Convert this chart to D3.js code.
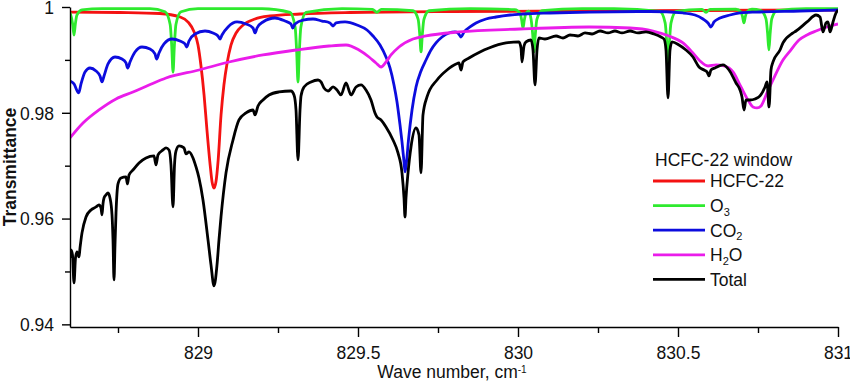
<!DOCTYPE html>
<html>
<head>
<meta charset="utf-8">
<script src="https://cdn.jsdelivr.net/npm/d3@7"></script>
<style>
    body { margin: 0; background: #fff; }
    text { font-family: "Liberation Sans", Arial, sans-serif; fill: #111; }
</style>
</head>
<body>
<div class="wrapper"></div>
<script>
// [wave number cm-1, transmittance]
const hcfc22 = [
    [828.600, 0.99905], [828.756, 0.99896], [828.881, 0.99877], [828.944, 0.99811], [828.969, 0.99716],
    [828.988, 0.99527], [829.000, 0.99281], [829.009, 0.98903], [829.019, 0.98336], [829.028, 0.97674],
    [829.038, 0.97012], [829.044, 0.96691], [829.050, 0.96577], [829.056, 0.96691], [829.063, 0.97107],
    [829.072, 0.97958], [829.081, 0.98525], [829.091, 0.98941], [829.103, 0.99281], [829.119, 0.99508],
    [829.141, 0.99660], [829.178, 0.99773], [829.225, 0.99830], [829.319, 0.99868], [829.475, 0.99896],
    [829.788, 0.99915], [830.256, 0.99924], [830.569, 0.99934], [831.000, 0.99943]
];

const o3 = [
    [828.600, 0.99895], [828.6085, 0.99670], [828.6125, 0.99470], [828.6165, 0.99670], [828.6215, 0.99845],
    [828.6375, 0.99945], [828.700, 0.99970], [828.850, 0.99970],
    [828.897, 0.99910], [828.913, 0.99670], [828.918, 0.99250], [828.922, 0.98770], [828.926, 0.99250],
    [828.931, 0.99670], [828.947, 0.99910], [829.000, 0.99970], [829.200, 0.99970],
    [829.2875, 0.99900], [829.3035, 0.99622], [829.3085, 0.99136], [829.3125, 0.98580], [829.3165, 0.99136],
    [829.3215, 0.99622], [829.3375, 0.99900], [829.450, 0.99970],
    [829.545, 0.99955], [829.559, 0.99900], [829.573, 0.99955],
    [829.672, 0.99929], [829.688, 0.99765], [829.693, 0.99478], [829.697, 0.99150], [829.701, 0.99478],
    [829.706, 0.99765], [829.722, 0.99929], [829.850, 0.99970],
    [829.990, 0.99951], [830.0066, 0.99878], [830.0116, 0.99748], [830.0156, 0.99600], [830.0196, 0.99748],
    [830.0246, 0.99878], [830.033, 0.99920], [830.041, 0.99765], [830.046, 0.99478], [830.050, 0.99150],
    [830.054, 0.99478], [830.059, 0.99765], [830.075, 0.99929], [830.200, 0.99970], [830.300, 0.99970],
    [830.444, 0.99915], [830.460, 0.99695], [830.465, 0.99310], [830.469, 0.98870], [830.473, 0.99310],
    [830.478, 0.99695], [830.494, 0.99915],
    [830.575, 0.99955], [830.5875, 0.99900], [830.600, 0.99955],
    [830.681, 0.99957], [830.697, 0.99903], [830.702, 0.99808], [830.706, 0.99700], [830.710, 0.99808],
    [830.715, 0.99903], [830.731, 0.99957],
    [830.759, 0.99931], [830.775, 0.99775], [830.780, 0.99502], [830.784, 0.99190], [830.788, 0.99502],
    [830.793, 0.99775], [830.809, 0.99931], [830.900, 0.99970], [831.000, 0.99970]
];

const co2 = [
    [828.6000, 0.98601], [828.6125, 0.98545], [828.6272, 0.98375], [828.6344, 0.98545], [828.6469, 0.98771],
    [828.6625, 0.98847], [828.6813, 0.98790], [828.6938, 0.98696], [828.7000, 0.98583], [828.7063, 0.98696],
    [828.7188, 0.98923], [828.7406, 0.99055], [828.7625, 0.99017], [828.7750, 0.98942], [828.7803, 0.98847],
    [828.7875, 0.98960], [828.8031, 0.99150], [828.8250, 0.99244], [828.8500, 0.99206], [828.8656, 0.99112],
    [828.8709, 0.99017], [828.8781, 0.99131], [828.8938, 0.99301], [828.9188, 0.99395], [828.9438, 0.99357],
    [828.9594, 0.99301], [828.9647, 0.99244], [828.9719, 0.99357], [828.9906, 0.99490], [829.0219, 0.99546],
    [829.0469, 0.99509], [829.0625, 0.99452], [829.0688, 0.99395], [829.0750, 0.99471], [829.0938, 0.99622],
    [829.1219, 0.99717], [829.1500, 0.99679], [829.1719, 0.99603], [829.1781, 0.99509], [829.1844, 0.99603],
    [829.2031, 0.99717], [829.2406, 0.99792], [829.2719, 0.99735], [829.2906, 0.99679], [829.2959, 0.99603],
    [829.3031, 0.99679], [829.3281, 0.99754], [829.3594, 0.99773], [829.3875, 0.99735], [829.4125, 0.99698],
    [829.4219, 0.99641], [829.4313, 0.99698], [829.4594, 0.99717], [829.4969, 0.99660], [829.5281, 0.99565],
    [829.5469, 0.99452], [829.5688, 0.99282], [829.5875, 0.99055], [829.6000, 0.98847], [829.6125, 0.98526],
    [829.6219, 0.98205], [829.6313, 0.97770], [829.6375, 0.97449], [829.6438, 0.97071], [829.6469, 0.96882],
    [829.6516, 0.97071], [829.6578, 0.97486], [829.6688, 0.98053], [829.6813, 0.98488], [829.6969, 0.98790],
    [829.7125, 0.98998], [829.7281, 0.99187], [829.7438, 0.99320], [829.7625, 0.99433], [829.7844, 0.99509],
    [829.8031, 0.99528], [829.8125, 0.99509], [829.8219, 0.99433], [829.8313, 0.99528], [829.8500, 0.99622],
    [829.8688, 0.99698], [829.9000, 0.99773], [829.9313, 0.99811], [829.9750, 0.99849], [830.0156, 0.99868],
    [830.1000, 0.99887], [830.2219, 0.99905], [830.4125, 0.99915], [830.5156, 0.99887], [830.5531, 0.99849],
    [830.5781, 0.99773], [830.5938, 0.99698], [830.6031, 0.99622], [830.6125, 0.99717], [830.6313, 0.99792],
    [830.6625, 0.99849], [830.6938, 0.99887], [830.7438, 0.99905], [830.8813, 0.99924], [831.0000, 0.99943]
];

const h2o = [
    [828.6000, 0.97524], [828.6406, 0.97806], [828.6906, 0.98053], [828.7438, 0.98261], [828.7969, 0.98393],
    [828.8469, 0.98525], [828.9000, 0.98658], [829.0031, 0.98809], [829.0969, 0.98960], [829.2031, 0.99093],
    [829.3063, 0.99187], [829.4094, 0.99263], [829.4625, 0.99282], [829.5031, 0.99187], [829.5344, 0.99055],
    [829.5563, 0.98942], [829.5719, 0.98866], [829.5875, 0.98960], [829.6031, 0.99093], [829.6281, 0.99244],
    [829.6719, 0.99395], [829.7125, 0.99452], [829.8156, 0.99528], [830.0063, 0.99584], [830.2219, 0.99622],
    [830.3500, 0.99603], [830.4219, 0.99546], [830.4719, 0.99452], [830.5156, 0.99320], [830.5438, 0.99150],
    [830.5688, 0.98980], [830.5938, 0.98885], [830.6188, 0.98904], [830.6438, 0.98885], [830.6719, 0.98772],
    [830.6969, 0.98488], [830.7188, 0.98242], [830.7344, 0.98110], [830.7469, 0.98091], [830.7594, 0.98129],
    [830.7781, 0.98375], [830.7969, 0.98620], [830.8281, 0.98998], [830.8500, 0.99168], [830.8781, 0.99376],
    [830.9031, 0.99471], [830.9313, 0.99546], [830.9656, 0.99622], [831.0000, 0.99679]
];

const total = [
    [828.6000, 0.95256], [828.6031, 0.95407], [828.6078, 0.95313], [828.6125, 0.94784], [828.6172, 0.95256],
    [828.6219, 0.95370], [828.6281, 0.95275], [828.6313, 0.95445], [828.6375, 0.95729], [828.6500, 0.96031],
    [828.6656, 0.96163], [828.6813, 0.96220], [828.6906, 0.96258], [828.6969, 0.96201], [828.7000, 0.96069],
    [828.7031, 0.96277], [828.7063, 0.96390], [828.7125, 0.96447], [828.7188, 0.96485], [828.7250, 0.96390],
    [828.7313, 0.96069], [828.7344, 0.95596], [828.7375, 0.94840], [828.7406, 0.95502], [828.7438, 0.96107],
    [828.7500, 0.96655], [828.7594, 0.96768], [828.7750, 0.96787], [828.7797, 0.96655], [828.7844, 0.96825],
    [828.7969, 0.96919], [828.8156, 0.97052], [828.8375, 0.97146], [828.8625, 0.97184], [828.8688, 0.97014],
    [828.8750, 0.97203], [828.8906, 0.97297], [828.9000, 0.97335], [828.9094, 0.97297], [828.9156, 0.97014],
    [828.9219, 0.96220], [828.9266, 0.97014], [828.9313, 0.97278], [828.9406, 0.97373], [828.9563, 0.97335],
    [828.9625, 0.97222], [828.9719, 0.97260], [828.9844, 0.97146], [828.9938, 0.96976], [829.0031, 0.96768],
    [829.0156, 0.96352], [829.0313, 0.95596], [829.0406, 0.95124], [829.0500, 0.94727], [829.0594, 0.95124],
    [829.0656, 0.95596], [829.0719, 0.96031], [829.0875, 0.96863], [829.1094, 0.97486], [829.1281, 0.97864],
    [829.1500, 0.97997], [829.1719, 0.98053], [829.1781, 0.97959], [829.1875, 0.98129], [829.2031, 0.98242],
    [829.2219, 0.98337], [829.2531, 0.98394], [829.2906, 0.98412], [829.3000, 0.98337], [829.3063, 0.98053],
    [829.3125, 0.97108], [829.3188, 0.98053], [829.3219, 0.98318], [829.3313, 0.98488], [829.3531, 0.98583],
    [829.3750, 0.98620], [829.3844, 0.98583], [829.3938, 0.98469], [829.4063, 0.98412], [829.4219, 0.98488],
    [829.4344, 0.98431], [829.4469, 0.98337], [829.4625, 0.98564], [829.4781, 0.98337], [829.4938, 0.98488],
    [829.5094, 0.98526], [829.5250, 0.98431], [829.5406, 0.98242], [829.5531, 0.97997], [829.5594, 0.97921],
    [829.5719, 0.97864], [829.5875, 0.97732], [829.6094, 0.97486], [829.6250, 0.97241], [829.6375, 0.96863],
    [829.6438, 0.96390], [829.6469, 0.96031], [829.6500, 0.96390], [829.6563, 0.96863], [829.6656, 0.97354],
    [829.6813, 0.97713], [829.6906, 0.97581], [829.6969, 0.96863], [829.7031, 0.97959], [829.7156, 0.98299],
    [829.7469, 0.98620], [829.7781, 0.98809], [829.8063, 0.98923], [829.8156, 0.98942], [829.8219, 0.98809],
    [829.8281, 0.98961], [829.8469, 0.99036], [829.8813, 0.99150], [829.9094, 0.99225], [829.9625, 0.99320],
    [830.0031, 0.99339], [830.0094, 0.99225], [830.0125, 0.98961], [830.0188, 0.99263], [830.0250, 0.99339],
    [830.0406, 0.99376], [830.0469, 0.99187], [830.0531, 0.98526], [830.0594, 0.99187], [830.0656, 0.99414],
    [830.0844, 0.99395], [830.1188, 0.99452], [830.1406, 0.99414], [830.1625, 0.99471], [830.1875, 0.99452],
    [830.2094, 0.99509], [830.2313, 0.99490], [830.2563, 0.99546], [830.2813, 0.99509], [830.3031, 0.99546],
    [830.3250, 0.99509], [830.3500, 0.99546], [830.3750, 0.99509], [830.4000, 0.99528], [830.4250, 0.99490],
    [830.4469, 0.99433], [830.4563, 0.99395], [830.4625, 0.99187], [830.4688, 0.98280], [830.4750, 0.99187],
    [830.4813, 0.99339], [830.5031, 0.99282], [830.5250, 0.99187], [830.5469, 0.99055], [830.5656, 0.98866],
    [830.5813, 0.98809], [830.5906, 0.98772], [830.5969, 0.98696], [830.6031, 0.98809], [830.6156, 0.98847],
    [830.6406, 0.98904], [830.6594, 0.98809], [830.6813, 0.98564], [830.6938, 0.98431], [830.7000, 0.98299],
    [830.7063, 0.98053], [830.7125, 0.98242], [830.7250, 0.98242], [830.7406, 0.98261], [830.7563, 0.98318],
    [830.7719, 0.98488], [830.7781, 0.98583], [830.7844, 0.98110], [830.7906, 0.98809], [830.7969, 0.98961],
    [830.8188, 0.99187], [830.8281, 0.99320], [830.8594, 0.99509], [830.8688, 0.99546], [830.9031, 0.99717],
    [830.9313, 0.99849], [830.9438, 0.99811], [830.9531, 0.99528], [830.9625, 0.99698], [830.9688, 0.99717],
    [830.9750, 0.99528], [830.9844, 0.99717], [830.9938, 0.99887], [831.0000, 0.99943]
];

const xMajor = [829, 829.5, 830, 830.5, 831];
const xMinor = [828.75, 829.25, 829.75, 830.25, 830.75];
const yMajor = [0.94, 0.96, 0.98, 1];
const yMinor = [0.95, 0.97, 0.99];

const legendTitle = "HCFC-22 window";
// odd entries are subscripts
const legendParts = [["HCFC-22"], ["O", "3"], ["CO", "2"], ["H", "2", "O"], ["Total"]];
const seriesData = [hcfc22, o3, co2, h2o, total];
const colors = ["#f41212", "#2eea2e", "#0c0cde", "#ea1cea", "#000000"];

const margin = {top: 7, right: 12, bottom: 55, left: 70},
    width = 850 - margin.left - margin.right,
    height = 382 - margin.top - margin.bottom;

const svg = d3.select(".wrapper").append("svg")
    .attr("width", width + margin.left + margin.right)
    .attr("height", height + margin.top + margin.bottom)
    .append("g")
    .attr("transform", "translate(" + margin.left + "," + margin.top + ")");

const x = d3.scaleLinear().domain([828.6, 831]).range([0, width]);
const y = d3.scaleLinear().domain([0.9395, 1]).range([height, 0]);

svg.append("clipPath").attr("id", "clip")
    .append("rect").attr("x", 0).attr("y", -3).attr("width", width).attr("height", height + 3);

const line = d3.line()
    .x(d => x(d[0]))
    .y(d => y(d[1]))
    .curve(d3.curveMonotoneX);

svg.append("g").attr("clip-path", "url(#clip)")
    .selectAll("path")
    .data(seriesData)
    .enter().append("path")
    .attr("d", line)
    .attr("fill", "none")
    .attr("stroke", (d, i) => colors[i])
    .attr("stroke-width", 2.8)
    .attr("stroke-linejoin", "round");

// axes
const fontSize = "17.5px";

svg.append("g")
    .attr("transform", "translate(0," + height + ")")
    .call(d3.axisBottom(x).tickValues(xMajor).tickSize(10).tickSizeOuter(0).tickPadding(10).tickFormat(d3.format("")));
svg.append("g")
    .attr("transform", "translate(0," + height + ")")
    .call(d3.axisBottom(x).tickValues(xMinor).tickSize(6).tickFormat(""))
    .call(g => g.select(".domain").remove());

const yAxis = svg.append("g")
    .call(d3.axisLeft(y).tickValues(yMajor).tickSize(8).tickSizeOuter(0).tickPadding(8).tickFormat(d => String(d)));
svg.append("g")
    .call(d3.axisLeft(y).tickValues(yMinor).tickSize(5).tickFormat(""))
    .call(g => g.select(".domain").remove());

svg.selectAll(".tick line, .domain").attr("stroke", "#000").attr("stroke-width", 1.4);
svg.selectAll(".tick text")
    .style("font-size", fontSize)
    .style("font-family", '"Liberation Sans", Arial, sans-serif')
    .attr("fill", "#111");
yAxis.selectAll(".tick text").attr("dy", "0.36em");

// axis titles
const xt = svg.append("text")
    .attr("x", 382)
    .attr("y", 371)
    .attr("text-anchor", "middle")
    .style("font-size", fontSize);
xt.append("tspan").text("Wave number, cm");
xt.append("tspan").attr("dy", -5).style("font-size", "10px").text("-1");

svg.append("text")
    .attr("transform", "translate(" + (16 - margin.left) + "," + (height / 2) + ") rotate(-90)")
    .attr("text-anchor", "middle")
    .style("font-size", fontSize)
    .style("font-weight", "bold")
    .text("Transmittance");

// legend
const legend = svg.append("g").attr("transform", "translate(583,0)");
legend.append("text")
    .attr("x", 2)
    .attr("y", 159)
    .style("font-size", fontSize)
    .text(legendTitle);

const item = legend.selectAll("g.item")
    .data(legendParts)
    .enter().append("g")
    .attr("class", "item")
    .attr("transform", (d, i) => "translate(0," + (174 + i * 24.6) + ")");

item.append("line")
    .attr("x1", 0).attr("x2", 52)
    .attr("stroke", (d, i) => colors[i])
    .attr("stroke-width", 2.8);

item.append("text")
    .attr("x", 57)
    .attr("y", 6.3)
    .style("font-size", fontSize)
    .each(function (parts) {
        const t = d3.select(this);
        parts.forEach((p, j) => {
            if (j % 2 === 1) {
                t.append("tspan").attr("dy", 4).style("font-size", "11px").text(p);
            } else {
                t.append("tspan").attr("dy", j > 0 ? -4 : 0).text(p);
            }
        });
    });
</script>
</body>
</html>
